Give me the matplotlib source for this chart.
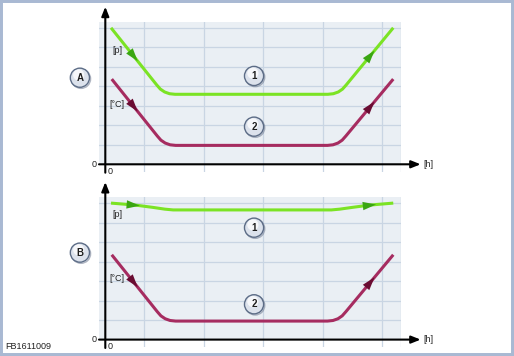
import numpy as np
import matplotlib
matplotlib.use("Agg")
import matplotlib.pyplot as plt
from matplotlib.patches import Rectangle
import matplotlib.patheffects as pe

plt.rcParams['font.family'] = ['Liberation Sans', 'DejaVu Sans']

# ---------------- data ----------------
# Panel A
a_p_x = [0.096, 0.864, 0.925, 0.997, 1.079, 1.172, 3.741, 3.833, 3.916, 3.987, 4.049, 4.84]
a_p_y = [7.00, 4.07, 3.857, 3.709, 3.62, 3.59, 3.59, 3.62, 3.709, 3.857, 4.07, 7.00]
a_t_x = [0.108, 0.874, 0.935, 1.007, 1.089, 1.182, 3.735, 3.827, 3.910, 3.981, 4.043, 4.84]
a_t_y = [4.37, 1.45, 1.237, 1.089, 1.00, 0.97, 0.97, 1.00, 1.089, 1.237, 1.45, 4.37]
# Panel B
b_p_x = [0.096, 0.50, 0.80, 1.00, 1.14, 3.80, 3.94, 4.15, 4.45, 4.84]
b_p_y = [7.00, 6.90, 6.78, 6.69, 6.65, 6.65, 6.69, 6.78, 6.90, 7.00]
b_t_x = [0.108, 0.874, 0.935, 1.007, 1.089, 1.182, 3.735, 3.827, 3.910, 3.981, 4.043, 4.84]
b_t_y = [4.35, 1.43, 1.217, 1.069, 0.98, 0.95, 0.95, 0.98, 1.069, 1.217, 1.43, 4.35]

# arrow (tail x, tip x) along each curve
a_p_arrows = [(0.30, 0.545), (4.28, 4.525)]
a_t_arrows = [(0.30, 0.545), (4.28, 4.525)]
b_p_arrows = [(0.30, 0.58), (4.27, 4.55)]
b_t_arrows = [(0.30, 0.545), (4.28, 4.525)]

grid_x = [0.655, 1.655, 2.655, 3.655, 4.655]
grid_y = [1, 2, 3, 4, 5, 6, 7]

panels = [
    dict(letter="A", p=(a_p_x, a_p_y, a_p_arrows), t=(a_t_x, a_t_y, a_t_arrows),
         p_lab=(0.197, 5.86), t_lab=(0.197, 3.08), c1=4.53, c2=1.93, cl=4.44),
    dict(letter="B", p=(b_p_x, b_p_y, b_p_arrows), t=(b_t_x, b_t_y, b_t_arrows),
         p_lab=(0.197, 6.44), t_lab=(0.197, 3.11), c1=5.74, c2=1.81, cl=4.46),
]

# ---------------- style ----------------
W, H = 514, 356
GREEN = "#7be324"
GREEN_DARK = "#3aa612"
RED = "#a62c60"
RED_DARK = "#6a0c32"
BG = "#eaeff4"
GRID = "#c9d5e3"
BORDER = "#a9b9d3"

fig = plt.figure(figsize=(W / 100, H / 100), dpi=100)
fig.patch.set_facecolor("white")

XL = (-0.106, 4.97)
YL = (-0.4, 7.31)

def px_axes(left, top, right, bottom):
    return fig.add_axes([left / W, 1 - bottom / H, (right - left) / W, (bottom - top) / H])

def circle_label(ax, x, y, txt):
    ax.scatter([x], [y], s=190, facecolor="#dce2ec", edgecolor="#5c6c86", linewidth=1.0,
               zorder=6, clip_on=False,
               path_effects=[pe.SimpleLineShadow(offset=(0.8, -0.8), shadow_color="#7a8499", alpha=0.6),
                             pe.Normal()])
    ax.scatter([x - 0.02], [y + 0.14], s=65, facecolor="white", edgecolor="none", alpha=0.75,
               zorder=6.5, clip_on=False)
    ax.text(x, y, txt, ha="center", va="center", fontsize=7, fontweight="bold",
            color="#1e1e1e", zorder=7)

for i, P in enumerate(panels):
    off = 175.3 * i
    zero_px = 164.3 + off
    top_px = zero_px - (YL[1] * 19.5)
    bot_px = zero_px - (YL[0] * 19.5)
    ax = px_axes(99, top_px, 401, bot_px)
    ax.set_xlim(*XL)
    ax.set_ylim(*YL)
    ax.set_facecolor("none")
    for s in ax.spines.values():
        s.set_visible(False)
    ax.set_xticks([])
    ax.set_yticks([])

    ax.fill_between(XL, 0, YL[1], color=BG, zorder=0, lw=0)
    for gy in grid_y:
        ax.axhline(gy, color=GRID, lw=0.9, zorder=1)
    for gx in grid_x:
        ax.axvline(gx, color=GRID, lw=0.9, zorder=1)
    ax.axvline(XL[1], ymin=0, ymax=1, color=GRID, lw=0.9, zorder=1)

    # axes with arrows
    ax.annotate("", xy=(0, 8.08), xytext=(0, -0.43), xycoords="data",
                arrowprops=dict(arrowstyle="-|>,head_length=0.55,head_width=0.22",
                                color="black", lw=1.5, shrinkA=0, shrinkB=0),
                annotation_clip=False, zorder=5)
    ax.annotate("", xy=(5.30, 0), xytext=(-0.106, 0), xycoords="data",
                arrowprops=dict(arrowstyle="-|>,head_length=0.55,head_width=0.22",
                                color="black", lw=1.5, shrinkA=0, shrinkB=0),
                annotation_clip=False, zorder=5)

    # curves
    for (cx, cy, arrows), col, dcol in [(P["p"], GREEN, GREEN_DARK), (P["t"], RED, RED_DARK)]:
        ax.plot(cx, cy, color=col, lw=2.2, solid_joinstyle="round", solid_capstyle="butt",
                zorder=3, clip_on=False)
        for (xa, xb) in arrows:
            ya = np.interp(xa, cx, cy)
            yb = np.interp(xb, cx, cy)
            ax.annotate("", xy=(xb, yb), xytext=(xa, ya),
                        arrowprops=dict(arrowstyle="-|>,head_length=0.95,head_width=0.3",
                                        color=dcol, lw=0.01, shrinkA=0, shrinkB=0),
                        zorder=4)

    # labels
    ax.text(*P["p_lab"], "[p]", ha="center", va="center", fontsize=6.5, color="#222222", zorder=5)
    ax.text(*P["t_lab"], "[°C]", ha="center", va="center", fontsize=6.5, color="#222222", zorder=5)
    ax.text(-0.185, 0, "0", ha="center", va="center", fontsize=6.5, color="#222222")
    ax.text(0.085, -0.36, "0", ha="center", va="center", fontsize=6.5, color="#222222")
    ax.text(5.434, 0, "[h]", ha="center", va="center", fontsize=6.5, color="#222222")

    circle_label(ax, 2.5, P["c1"], "1")
    circle_label(ax, 2.5, P["c2"], "2")
    circle_label(ax, -0.427, P["cl"], P["letter"])

fig.text(5 / W, 1 - 346.7 / H, "FB1611009", ha="left", va="center", fontsize=6.5, color="#222222")

fig.patches.append(Rectangle((0, 0), 1, 1, transform=fig.transFigure, fill=False,
                             edgecolor=BORDER, linewidth=4.3, zorder=10))

fig.savefig("out.png", dpi=100, facecolor="white")
